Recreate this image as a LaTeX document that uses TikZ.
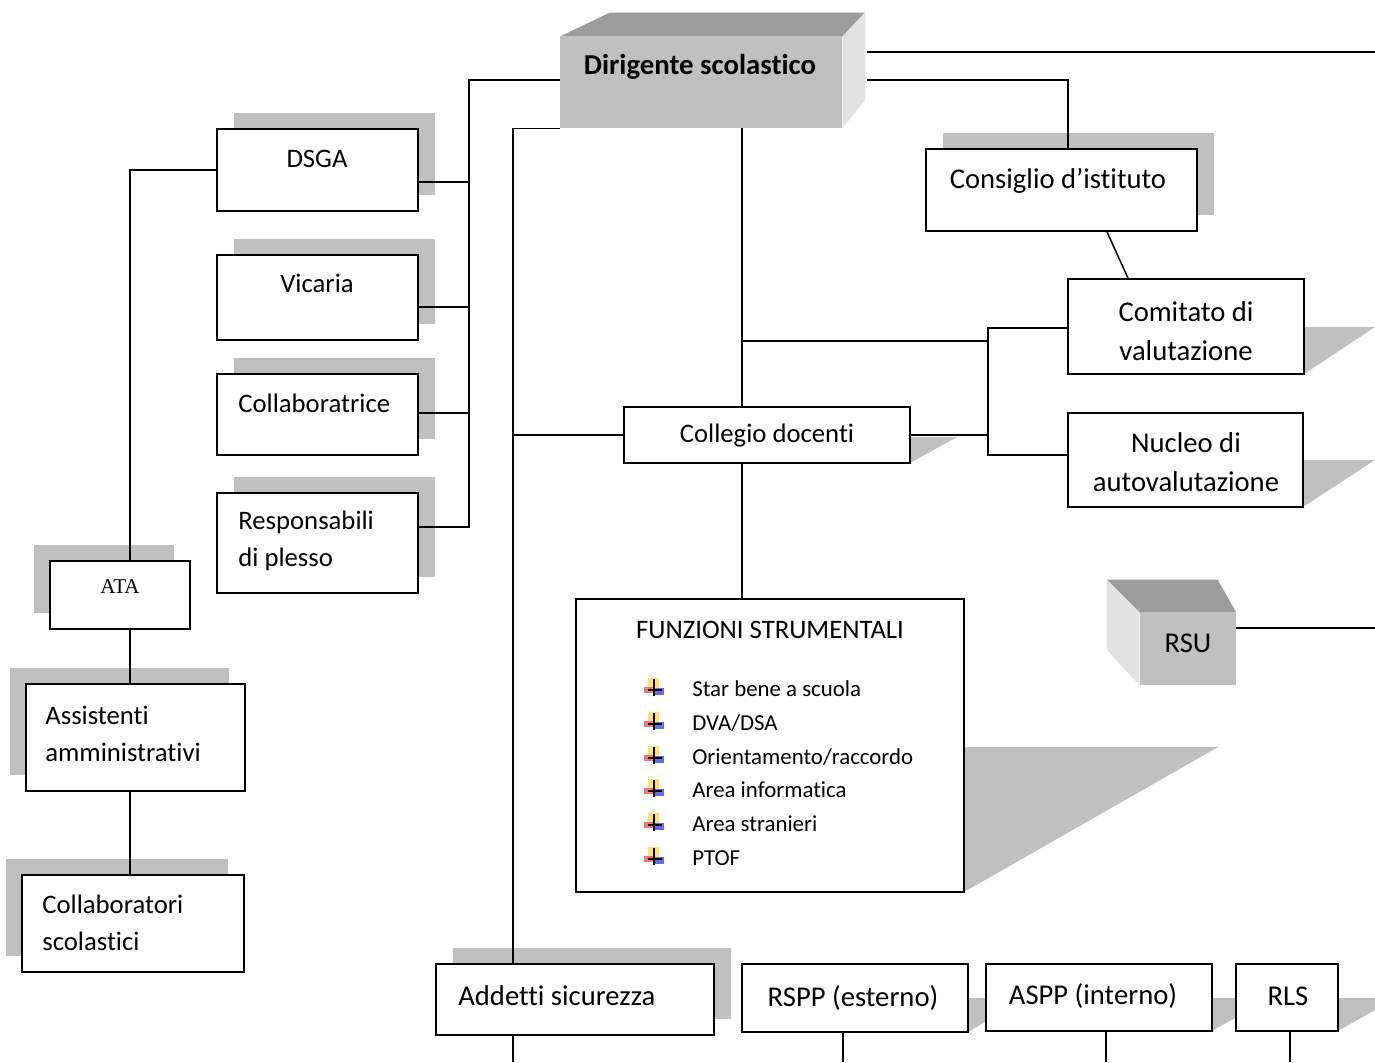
\documentclass[tikz,border=0pt]{standalone}
\usepackage{fontspec}
\setmainfont{Carlito}[Ligatures=NoCommon]
\newfontfamily\atafont{Liberation Serif}
\usetikzlibrary{positioning,shadows,calc}
\definecolor{shadowc}{HTML}{C0C0C0}
\definecolor{topc}{HTML}{9C9C9C}
\definecolor{sidec}{HTML}{E2E2E2}
\definecolor{bulY}{HTML}{FFD84A}
\definecolor{bulR}{HTML}{F04848}
\definecolor{bulB}{HTML}{3838E8}
\tikzset{
	sz/.style 2 args={minimum width=#1*0.02cm, minimum height=#2*0.02cm},
	box/.style={draw, line width=1pt, fill=white, inner sep=0pt},
	shR/.style={drop shadow={shadow xshift=0.34cm, shadow yshift=0.32cm, opacity=1, fill=shadowc}},
	shL/.style={drop shadow={shadow xshift=-0.32cm, shadow yshift=0.32cm, opacity=1, fill=shadowc}},
	txt/.style={inner sep=0pt, font=\fontsize{15.2}{21}\selectfont},
	big/.style={inner sep=0pt, font=\fontsize{16.3}{22}\selectfont},
	lst/.style={inner sep=0pt, anchor=west, font=\fontsize{13}{15}\selectfont},
	wire/.style={line width=0.85pt}
}

\begin{document}
\begin{tikzpicture}[x=0.02cm, y=-0.02cm]
	\useasboundingbox (0,0) rectangle (1375,1062);
	\clip (0,0) rectangle (1375,1062);
	
	% slanted shadows
	\fill[shadowc] (910,437) -- (957,437) -- (910,463) -- cycle;
	\fill[shadowc] (1304,327) -- (1375,327) -- (1304,374) -- cycle;
	\fill[shadowc] (1303,460) -- (1375,460) -- (1303,507) -- cycle;
	\fill[shadowc] (964,747) -- (1218,747) -- (964,892) -- cycle;
	\fill[shadowc] (968,998) -- (1026,998) -- (968,1032) -- cycle;
	\fill[shadowc] (1212,998) -- (1270,998) -- (1212,1031) -- cycle;
	\fill[shadowc] (1338,998) -- (1396,998) -- (1338,1031) -- cycle;
	
	% 3D blocks
	\node[fill=shadowc, inner sep=0pt, sz={282}{91}] (dirig) at (701,82.5) {};
	\fill[topc] (dirig.north west) -- ++(50,-24) -- ++(255,0) -- (dirig.north east) -- cycle;
	\fill[sidec] (dirig.north east) -- ++(23,-24) -- ++(0,87) -- (dirig.south east) -- cycle;
	\node[inner sep=0pt, font=\fontsize{16.4}{18}\selectfont\bfseries] (dirigT) at (700,67) {Dirigente scolastico};
	
	\node[fill=shadowc, inner sep=0pt, sz={96}{72}] (rsu) at (1188,649) {};
	\fill[topc] (rsu.north west) -- ++(-33,-33) -- ++(111,0) -- (rsu.north east) -- cycle;
	\fill[sidec] (rsu.north west) -- ++(-33,-33) -- ++(0,70) -- (rsu.south west) -- cycle;
	\node[big] (rsuT) at (1188,643) {RSU};
	
	% boxes
	\node[box, shR, sz={201}{82}] (dsga) at (317.5,170) {};
	\node[box, shR, sz={201}{85}] (vicaria) at (317.5,297.5) {};
	\node[box, shR, sz={201}{81}] (collab) at (317.5,414.5) {};
	\node[box, shR, sz={201}{100}] (resp) at (317.5,543) {};
	\node[box, shL, sz={140}{68}] (ata) at (120,595) {};
	\node[box, shL, sz={219}{107}] (assist) at (135.5,737.5) {};
	\node[box, shL, sz={222}{97}] (collsc) at (133,923.5) {};
	\node[box, shR, sz={271}{82}] (consiglio) at (1061.5,190) {};
	\node[box, sz={236}{95}] (comitato) at (1186,326.5) {};
	\node[box, sz={235}{94}] (nucleo) at (1185.5,460) {};
	\node[box, sz={286}{56}] (collegio) at (767,435) {};
	\node[box, sz={388}{293}] (funz) at (770,745.5) {};
	\node[box, shR, sz={278}{71}] (addetti) at (575,999.5) {};
	\node[box, sz={226}{68}] (rspp) at (855,998) {};
	\node[box, sz={226}{67}] (aspp) at (1099,997.5) {};
	\node[box, sz={102}{67}] (rls) at (1287,997.5) {};
	
	% texts
	\node[txt] (dsgaT) at (317,159) {DSGA};
	\node[txt] (vicariaT) at (317,283) {Vicaria};
	\node[txt, anchor=west] (collabT) at (238,403) {Collaboratrice};
	\node[txt, anchor=west, align=left] (respT) at (238,541) {Responsabili\\di plesso};
	\node[inner sep=0pt, font=\atafont\fontsize{12}{14}\selectfont] (ataT) at (120,587) {ATA};
	\node[txt, anchor=west, align=left] (assistT) at (45,734) {Assistenti\\amministrativi};
	\node[txt, anchor=west, align=left] (collscT) at (42,923) {Collaboratori\\scolastici};
	\node[big] (consiglioT) at (1058,181) {Consiglio d’istituto};
	\node[big, align=center] (comitatoT) at (1186,331) {Comitato di\\valutazione};
	\node[big, align=center] (nucleoT) at (1186,462) {Nucleo di\\autovalutazione};
	\node[txt] (collegioT) at (767,436) {Collegio docenti};
	\node[txt] (funzT) at (770,630) {FUNZIONI STRUMENTALI};
	\node[big, anchor=west] (addettiT) at (458,996) {Addetti sicurezza};
	\node[big] (rsppT) at (853,998) {RSPP (esterno)};
	\node[big] (asppT) at (1093,996) {ASPP (interno)};
	\node[big] (rlsT) at (1288,996) {RLS};
	
	% list of funzioni
	\foreach \y/\t [count=\i] in {689/{Star bene a scuola}, 723/{DVA/DSA}, 757/{Orientamento/raccordo}, 790/{Area informatica}, 824/{Area stranieri}, 858/{PTOF}}{
		\fill[bulY, opacity=.75] (648,\y-11) rectangle (659,\y-1);
		\fill[bulR, opacity=.75] (644,\y-2) rectangle (653,\y+4);
		\fill[bulB, opacity=.75] (654,\y-1) rectangle (664,\y+6);
		\draw[line width=0.6pt] (654,\y-10) -- (654,\y+7) (648,\y+1) -- (662,\y+1);
		\node[lst] (item\i) at (692,\y) {\t};
	}
	
	% free ends
	\coordinate (eA) at (1375,52);
	\coordinate (eR) at (1375,628);
	\coordinate (cdJ) at (742,341);
	\coordinate (b1) at (513,1062);
	\coordinate (b2) at (843,1062);
	\coordinate (b3) at (1106,1062);
	\coordinate (b4) at (1290,1062);
	
	% connectors
	\draw[wire] ([shift={(25,-30.5)}]dirig.east) -- (eA);
	\draw[wire] ([shift={(25,-2.5)}]dirig.east) -| ([shift={(6.5,0)}]consiglio.north);
	\draw[wire] ([shift={(0,-2.5)}]dirig.west) -| ([shift={(50,-16)}]resp.east) -- ([shift={(0,-16)}]resp.east);
	\draw[wire] ([shift={(0,12)}]dsga.east) -- ++(50,0);
	\draw[wire] ([shift={(0,9.5)}]vicaria.east) -- ++(50,0);
	\draw[wire] ([shift={(0,-1.5)}]collab.east) -- ++(50,0);
	\draw[wire] (dirig.south west) -| ([shift={(-62,0)}]addetti.north);
	\draw[wire] (collegio.west) -- ++(-110,0);
	\draw[wire] ([shift={(-62,0)}]addetti.south) -- (b1);
	\draw[wire] ([shift={(41,0)}]dirig.south) -- ([shift={(-25,0)}]collegio.north);
	\draw[wire] ([shift={(-25,0)}]collegio.south) -- ([shift={(-28,0)}]funz.north);
	\draw[wire] (collegio.east) -- ++(77,0) coordinate (bus);
	\draw[wire] ([shift={(0,1.5)}]comitato.west) -| (bus);
	\draw[wire] ([shift={(0,-5)}]nucleo.west) -| (bus);
	\draw[wire] (cdJ) -- (cdJ -| bus);
	\draw[wire] ([shift={(45.5,0)}]consiglio.south) -- ([shift={(-58,0)}]comitato.north);
	\draw[wire] (dsga.west) -| ([shift={(10,0)}]ata.north);
	\draw[wire] ([shift={(10,0)}]ata.south) -- ([shift={(-5.5,0)}]assist.north);
	\draw[wire] ([shift={(-5.5,0)}]assist.south) -- ([shift={(-3,0)}]collsc.north);
	\draw[wire] ([shift={(0,-21)}]rsu.east) -- (eR);
	\draw[wire] ([shift={(-12,0)}]rspp.south) -- (b2);
	\draw[wire] ([shift={(7,0)}]aspp.south) -- (b3);
	\draw[wire] ([shift={(3,0)}]rls.south) -- (b4);
\end{tikzpicture}
\end{document}
